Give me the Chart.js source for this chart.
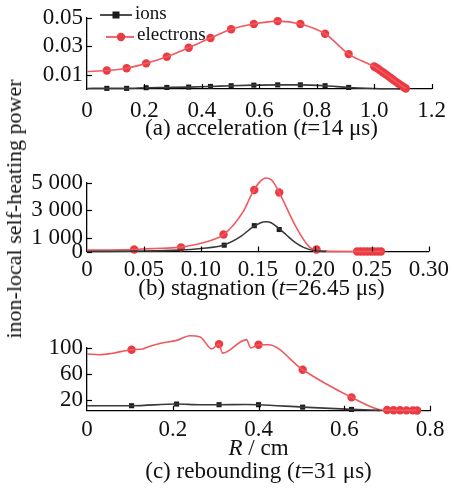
<!DOCTYPE html>
<html>
<head>
<meta charset="utf-8">
<script src="https://cdn.jsdelivr.net/npm/chart.js@4.4.1/dist/chart.umd.min.js"></script>
<style>
  body { margin: 0; background: #fff; }
  #wrap { position: relative; width: 454px; height: 488px; overflow: hidden; font-family: 'Liberation Serif', serif; color: #111; }
  canvas { position: absolute; left: 0; }
  .cap { position: absolute; left: 87px; width: 349px; text-align: center; font-size: 23px; line-height: 26px; white-space: nowrap; }
  #ytitle { position: absolute; left: 14px; top: 209px; font-size: 22px; white-space: nowrap; transform: translate(-50%, -50%) rotate(-90deg); }
</style>
</head>
<body>
<div id="wrap">
  <canvas id="chartA" width="454" height="120" style="top:0px"></canvas>
  <canvas id="chartB" width="454" height="115" style="top:165px"></canvas>
  <canvas id="chartC" width="454" height="110" style="top:330px"></canvas>
  <div class="cap" style="top:115px">(a) acceleration (<i>t</i>=14 μs)</div>
  <div class="cap" style="top:275px">(b) stagnation (<i>t</i>=26.45 μs)</div>
  <div class="cap" style="top:435px; width:343px"><i>R</i> / cm</div>
  <div class="cap" style="top:458px; width:343px">(c) rebounding (<i>t</i>=31 μs)</div>
  <div id="ytitle">inon-local self-heating power</div>
</div>
<script>
// ---- (a) acceleration, t = 14 us ----
var xTicksA = [0, 0.2, 0.4, 0.6, 0.8, 1.0, 1.2];
var yTicksA = [0.01, 0.03, 0.05];
var ionXA = [0, 0.069, 0.138, 0.206, 0.278, 0.354, 0.430, 0.502, 0.581, 0.664, 0.743, 0.829, 0.911, 1.0, 1.05, 1.09];
var ionYA = [0.0004, 0.00045, 0.00045, 0.0009, 0.0011, 0.00135, 0.0018, 0.0023, 0.0027, 0.0029, 0.0029, 0.0023, 0.0011, 0.0004, 0.0002, 0.0001];
var elecXA = [0, 0.069, 0.138, 0.206, 0.278, 0.354, 0.430, 0.502, 0.581, 0.664, 0.743, 0.829, 0.911, 1.0,
              1.005, 1.013, 1.021, 1.030, 1.039, 1.048, 1.057, 1.066, 1.075, 1.084, 1.093, 1.102, 1.11];
var elecYA = [0.0123, 0.013, 0.0146, 0.018, 0.0226, 0.029, 0.0358, 0.042, 0.0457, 0.0477, 0.0457, 0.0388, 0.0245, 0.0158,
              0.0152, 0.0142, 0.0131, 0.0118, 0.0105, 0.0092, 0.0079, 0.0065, 0.0052, 0.0039, 0.0026, 0.0014, 0.0004];

// ---- (b) stagnation, t = 26.45 us ----
var xTicksB = [0, 0.05, 0.10, 0.15, 0.20, 0.25, 0.30];
var yTicksB = [0, 1000, 3000, 5000];
var ionCurveXB = [0, 0.04, 0.08, 0.10, 0.12, 0.135, 0.145, 0.152, 0.157, 0.162, 0.168, 0.175, 0.182, 0.19, 0.20, 0.21];
var ionCurveYB = [0, 30, 100, 220, 470, 1100, 1750, 2080, 2160, 2080, 1700, 1200, 700, 300, 50, 0];
var ionMarkXB = [0.1204, 0.1468, 0.1687];
var ionMarkYB = [460, 1880, 1600];
var elecCurveXB = [0, 0.02, 0.04, 0.06, 0.08, 0.10, 0.12, 0.1373, 0.145, 0.152, 0.157, 0.162, 0.168, 0.1836, 0.195, 0.20, 0.21, 0.22, 0.24, 0.26];
var elecCurveYB = [100, 110, 150, 220, 300, 600, 1240, 2940, 4250, 5100, 5350, 5200, 4400, 1760, 340, 120, 30, 10, 0, 0];
var elecMarkXB = [0.0414, 0.0825, 0.1198, 0.1468, 0.1687, 0.2014,
                  0.237, 0.240, 0.243, 0.246, 0.249, 0.252, 0.255, 0.258];
var elecMarkYB = [150, 300, 1240, 4480, 4290, 150, 0, 0, 0, 0, 0, 0, 0, 0];

// ---- (c) rebounding, t = 31 us ----
var xTicksC = [0, 0.2, 0.4, 0.6, 0.8];
var yTicksC = [20, 60, 100];
var ionCurveXC = [0, 0.104, 0.209, 0.264, 0.308, 0.37, 0.4, 0.503, 0.617, 0.683];
var ionCurveYC = [10.7, 10.7, 13.3, 12.3, 12.3, 12.6, 12.3, 8.5, 5, 3.5];
var ionMarkXC = [0.104, 0.209, 0.308, 0.4, 0.503, 0.617];
var ionMarkYC = [10.7, 13.3, 12.3, 12.3, 8.5, 5];
var elecCurveXC = [0, 0.03, 0.06, 0.104, 0.13, 0.14, 0.17, 0.209, 0.24, 0.264, 0.291, 0.308, 0.316, 0.372, 0.382, 0.4, 0.423, 0.503, 0.617, 0.683, 0.70, 0.77];
var elecCurveYC = [90.7, 89.5, 92, 97.4, 98.5, 101, 107, 111.8, 119, 117, 98.6, 106, 92, 113, 100, 105, 105, 66.4, 23.6, 4.5, 3.8, 3.5];
var elecMarkXC = [0.104, 0.209, 0.308, 0.4, 0.503, 0.617, 0.70, 0.715, 0.73, 0.745, 0.76, 0.77];
var elecMarkYC = [97.4, 111.8, 106, 105, 66.4, 23.6, 4, 3.8, 3.6, 3.5, 3.5, 3.4];

var RED = '#ec3a43';
var RED_LINE = '#ee5a60';
var BLACK = '#1c1c1c';
var BLACK_LINE = '#3a3a3a';
var SERIF = '"Liberation Serif", serif';

function pts(xs, ys) {
    return xs.map(function (x, i) { return { x: x, y: ys[i] }; });
}

function curve(xs, ys, color, tension) {
    return { type: 'line', data: pts(xs, ys), borderColor: color, borderWidth: 1.6,
             pointRadius: 0, tension: tension, cubicInterpolationMode: 'monotone', clip: false };
}

function marks(xs, ys, color, style) {
    return { type: 'line', data: pts(xs, ys), showLine: false, pointStyle: style,
             pointRadius: style === 'rect' ? 3.6 : 4.2, backgroundColor: color, borderColor: color,
             borderWidth: 0, clip: false };
}

// small tick marks pointing into the plot, like the original figure
var innerTicks = {
    id: 'innerTicks',
    afterDraw: function (chart) {
        var c = chart.ctx, xs = chart.scales.x, ys = chart.scales.y;
        c.save();
        c.strokeStyle = '#000';
        c.lineWidth = 1.2;
        xs.ticks.forEach(function (t) {
            if (t.value === 0) return;
            var px = Math.round(xs.getPixelForValue(t.value)) + 0.5;
            c.beginPath(); c.moveTo(px, xs.top); c.lineTo(px, xs.top - 5); c.stroke();
        });
        ys.ticks.forEach(function (t) {
            var py = Math.round(ys.getPixelForValue(t.value)) + 0.5;
            c.beginPath(); c.moveTo(ys.right, py); c.lineTo(ys.right + 5, py); c.stroke();
        });
        c.restore();
    }
};

// legend of panel (a): line + marker + label
var legendA = {
    id: 'legendA',
    afterDraw: function (chart) {
        var c = chart.ctx;
        c.save();
        c.lineWidth = 1.8;
        c.strokeStyle = BLACK_LINE;
        c.beginPath(); c.moveTo(100, 15); c.lineTo(132, 15); c.stroke();
        c.fillStyle = BLACK;
        c.fillRect(112.5, 11.5, 7, 7);
        c.strokeStyle = RED_LINE;
        c.beginPath(); c.moveTo(106, 37); c.lineTo(134, 37); c.stroke();
        c.fillStyle = RED;
        c.beginPath(); c.arc(121, 37, 4.2, 0, Math.PI * 2); c.fill();
        c.fillStyle = '#111';
        c.font = '19px ' + SERIF;
        c.textBaseline = 'middle';
        c.fillText('ions', 135, 14);
        c.fillText('electrons', 137, 35);
        c.restore();
    }
};

function makeChart(id, cfg) {
    var canvas = document.getElementById(id);
    var h = canvas.height;
    return new Chart(canvas.getContext('2d'), {
        data: { datasets: cfg.datasets },
        plugins: cfg.plugins,
        options: {
            responsive: false,
            animation: false,
            layout: { padding: { top: cfg.top, right: 454 - cfg.right, left: 0, bottom: 0 } },
            plugins: { legend: { display: false }, tooltip: { enabled: false } },
            scales: {
                x: {
                    type: 'linear', min: cfg.xMin, max: cfg.xMax,
                    grid: { display: false, drawTicks: false },
                    border: { display: true, color: '#000', width: 1.3 },
                    afterBuildTicks: function (s) { s.ticks = cfg.xTicks.map(function (v) { return { value: v }; }); },
                    afterFit: function (s) { s.height = h - cfg.bottom; },
                    ticks: { padding: cfg.xPad, maxRotation: 0, autoSkip: false, callback: cfg.xFmt,
                             font: { family: SERIF, size: 23 }, color: '#111' }
                },
                y: {
                    type: 'linear', min: cfg.yMin, max: cfg.yMax,
                    grid: { display: false, drawTicks: false },
                    border: { display: true, color: '#000', width: 1.3 },
                    afterBuildTicks: function (s) { s.ticks = cfg.yTicks.map(function (v) { return { value: v }; }); },
                    afterFit: function (s) { s.width = 87; },
                    ticks: { padding: 4, autoSkip: false, callback: cfg.yFmt,
                             font: { family: SERIF, size: 23 }, color: '#111' }
                }
            }
        }
    });
}

function fmtFixed(n) {
    return function (v) { return v === 0 ? '0' : v.toFixed(n); };
}

function drawAll() {
    makeChart('chartA', {
        datasets: [
            curve(ionXA, ionYA, BLACK_LINE, 0.4),
            marks(ionXA.slice(1, 13), ionYA.slice(1, 13), BLACK, 'rect'),
            curve(elecXA, elecYA, RED_LINE, 0.4),
            marks(elecXA.slice(1), elecYA.slice(1), RED, 'circle')
        ],
        plugins: [innerTicks, legendA],
        top: 16, bottom: 89, right: 436, xPad: 8,
        xMin: 0, xMax: 1.2, yMin: 0, yMax: 0.05,
        xTicks: xTicksA, yTicks: yTicksA,
        xFmt: fmtFixed(1), yFmt: function (v) { return v.toFixed(2); }
    });

    makeChart('chartB', {
        datasets: [
            curve(ionCurveXB, ionCurveYB, BLACK_LINE, 0.4),
            marks(ionMarkXB, ionMarkYB, BLACK, 'rect'),
            curve(elecCurveXB, elecCurveYB, RED_LINE, 0.4),
            marks(elecMarkXB, elecMarkYB, RED, 'circle')
        ],
        plugins: [innerTicks],
        top: 16, bottom: 86.5, right: 435, xPad: 5,
        xMin: 0, xMax: 0.30, yMin: 0, yMax: 5000,
        xTicks: xTicksB, yTicks: yTicksB,
        xFmt: fmtFixed(2),
        yFmt: function (v) { return v === 0 ? '0' : (v / 1000) + ' 000'; }
    });

    makeChart('chartC', {
        datasets: [
            curve(ionCurveXC, ionCurveYC, BLACK_LINE, 0.2),
            marks(ionMarkXC, ionMarkYC, BLACK, 'rect'),
            curve(elecCurveXC, elecCurveYC, RED_LINE, 0),
            marks(elecMarkXC, elecMarkYC, RED, 'circle')
        ],
        plugins: [innerTicks],
        top: 18, bottom: 80.7, right: 430, xPad: 5,
        xMin: 0, xMax: 0.8, yMin: 3, yMax: 100,
        xTicks: xTicksC, yTicks: yTicksC,
        xFmt: fmtFixed(1), yFmt: function (v) { return String(v); }
    });
}

// make sure the serif face is ready before the canvases use it
document.fonts.load('23px "Liberation Serif"').then(drawAll, drawAll);
</script>
</body>
</html>
